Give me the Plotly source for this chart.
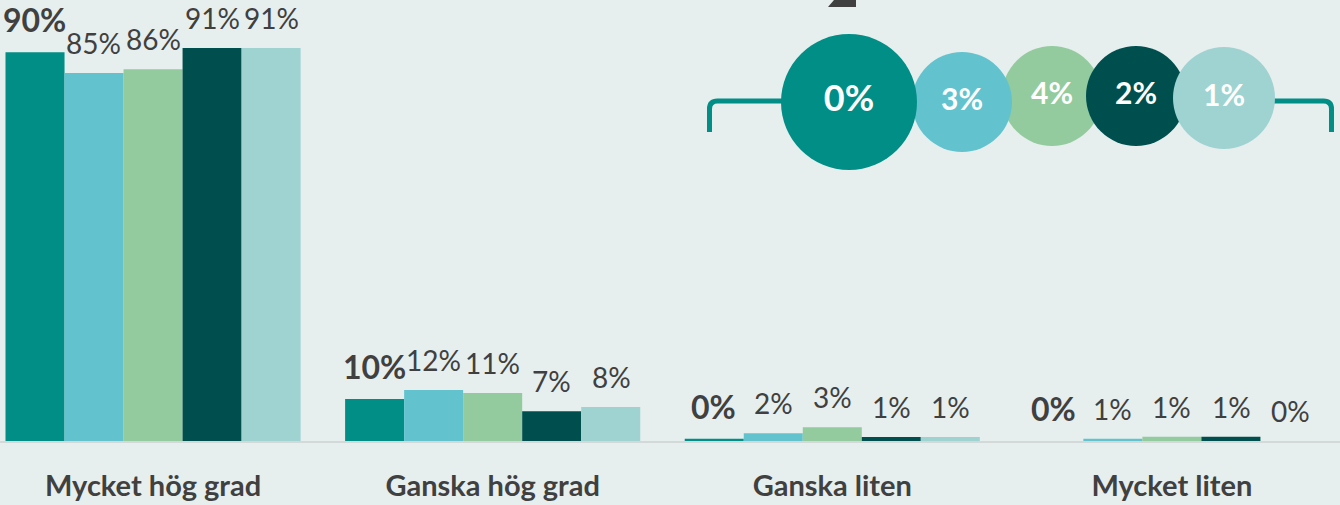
import plotly.graph_objects as go

# ---- data ----
categories = ["Mycket hög grad", "Ganska hög grad", "Ganska liten", "Mycket liten"]
series_names = ["Grupp 1", "Grupp 2", "Grupp 3", "Grupp 4", "Grupp 5"]
s1 = [90.0, 9.7, 0.5, 0.0]
s2 = [85.2, 11.8, 1.8, 0.5]
s3 = [86.1, 11.1, 3.2, 1.0]
s4 = [91.0, 6.9, 0.9, 1.0]
s5 = [91.0, 7.9, 0.9, 0.0]
t1 = ["90%", "10%", "0%", "0%"]
t2 = ["85%", "12%", "2%", "1%"]
t3 = ["86%", "11%", "3%", "1%"]
t4 = ["91%", "7%", "1%", "1%"]
t5 = ["91%", "8%", "1%", "0%"]
bubble_labels = ["0%", "3%", "4%", "2%", "1%"]

values = [s1, s2, s3, s4, s5]
texts = [t1, t2, t3, t4, t5]

# ---- style ----
colors = ["#008E86", "#62C3CF", "#93CB9E", "#004F4F", "#9FD3D2"]
bg = "#E6EFEE"
txt = "#404040"
W, H = 1340, 505
MB = 64
PH = H - MB  # plot height in px

fig = go.Figure()
for name, vals, col in zip(series_names, values, colors):
    fig.add_trace(go.Bar(x=categories, y=vals, name=name, marker_color=col,
                         marker_line_width=0))

# value labels
bar_px = 59.2
for i, (vals, labs) in enumerate(zip(values, texts)):
    for c, v, lab in zip(categories, vals, labs):
        fig.add_annotation(x=c, y=v, xref="x", yref="y", text=lab,
                           showarrow=False, yanchor="bottom",
                           xshift=(i - 2) * bar_px, yshift=11,
                           font=dict(family="Lato", size=32 if i == 0 else 28,
                                     color=txt, weight="bold" if i == 0 else "normal"))

# bubbles (pixel-coordinate overlay axes)
bub_x = [849, 962, 1052, 1136, 1224]
bub_y = [102, 102, 96, 96, 98]
bub_size = [136, 100, 100, 100, 102]
bub_font = [36, 30, 30, 30, 30]
order = [2, 3, 4, 1, 0]
fig.add_trace(go.Scatter(
    x=[bub_x[k] for k in order], y=[bub_y[k] for k in order],
    xaxis="x2", yaxis="y2", mode="markers+text",
    marker=dict(size=[bub_size[k] for k in order], color=[colors[k] for k in order],
                line_width=0, opacity=1),
    text=[bubble_labels[k] for k in order], textposition="middle center",
    textfont=dict(family="Lato", size=[bub_font[k] for k in order], color="white",
                  weight="bold"),
    cliponaxis=False, showlegend=False, hoverinfo="skip"))

def px(x, y):
    return f"{x / W:.5f},{(PH - y) / PH:.5f}"

# bracket
r = 8
left = (f"M {px(709.5, 132)} L {px(709.5, 101 + r)} Q {px(709.5, 101)} {px(709.5 + r, 101)} "
        f"L {px(800, 101)}")
right = (f"M {px(1260, 101)} L {px(1331.5 - r, 101)} Q {px(1331.5, 101)} {px(1331.5, 101 + r)} "
         f"L {px(1331.5, 132)}")
for p in (left, right):
    fig.add_shape(type="path", path=p, xref="paper", yref="paper",
                  line=dict(color=colors[0], width=5), layer="below")
# cropped dark pointer at top
fig.add_shape(type="path", xref="paper", yref="paper",
              path=f"M {px(834, 0)} L {px(856, 0)} L {px(856, 7)} L {px(828, 7)} Z",
              fillcolor=txt, line_width=0)

fig.update_layout(
    width=W, height=H, paper_bgcolor=bg, plot_bgcolor=bg,
    margin=dict(l=0, r=0, t=0, b=MB),
    barmode="group", bargap=0.131, bargroupgap=0,
    showlegend=False,
    xaxis=dict(type="category", range=[-0.4507, 3.495], showgrid=False,
               showline=True, linecolor="#D3D8D8", linewidth=2, ticks="",
               ticklabelstandoff=18,
               tickfont=dict(family="Lato", size=29, color=txt, weight="bold")),
    yaxis=dict(range=[0, PH / 4.319], visible=False, showgrid=False),
    xaxis2=dict(range=[0, W], overlaying="x", visible=False, showgrid=False),
    yaxis2=dict(range=[PH, 0], overlaying="y", visible=False, showgrid=False),
)

fig.write_html("out.html", config={"displayModeBar": False},
               post_script="document.body.style.margin='0';document.body.style.overflow='hidden';")
